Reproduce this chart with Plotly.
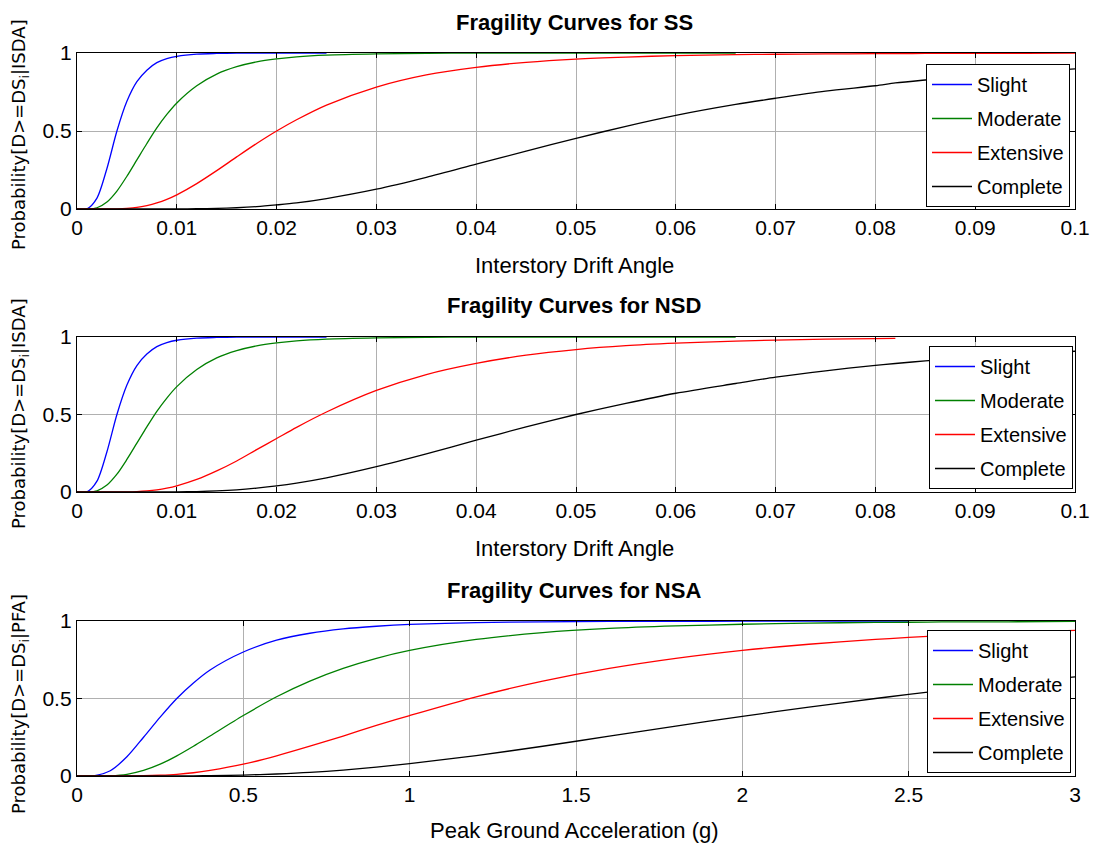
import plotly.graph_objects as go

# ---------------- data ----------------
DRIFT = [0, 0.001, 0.002, 0.003, 0.004, 0.005, 0.006, 0.007, 0.008, 0.009,
         0.010, 0.012, 0.014, 0.016, 0.018, 0.020, 0.022, 0.025, 0.030, 0.035,
         0.040, 0.045, 0.050, 0.055, 0.060, 0.066, 0.070, 0.075, 0.080, 0.082,
         0.085, 0.090, 0.095, 0.100]
PGA = [0, 0.05, 0.1, 0.15, 0.2, 0.25, 0.3, 0.35, 0.4, 0.5, 0.6, 0.7, 0.8, 0.9,
       1.0, 1.2, 1.4, 1.6, 1.8, 2.0, 2.2, 2.4, 2.5, 2.6, 2.8, 3.0]

SS_SLIGHT = [0, 0.001, 0.07, 0.26, 0.50, 0.69, 0.816, 0.89, 0.938, 0.964,
             0.979, 0.993, 0.997, 0.999, 1.0, 1.0, 1.0, 1.0]
SS_MODERATE = [0, 0.0002, 0.008, 0.045, 0.115, 0.21, 0.315, 0.42, 0.52, 0.606,
               0.68, 0.79, 0.865, 0.912, 0.943, 0.962, 0.975, 0.986, 0.994, 0.998,
               0.999, 1.0, 1.0, 1.0, 1.0, 1.0]
SS_EXTENSIVE = [0, 0, 0, 0, 0.001, 0.004, 0.010, 0.022, 0.039, 0.062,
                0.091, 0.163, 0.246, 0.334, 0.42, 0.5, 0.572, 0.666, 0.782, 0.86,
                0.908, 0.94, 0.961, 0.974, 0.983, 0.989, 0.992, 0.994, 0.996, 0.996,
                0.997, 0.998, 0.998, 0.999]
SS_COMPLETE = [0, 0, 0, 0, 0, 0, 0, 0, 0, 0.0002,
               0.0005, 0.0015, 0.004, 0.008, 0.015, 0.026, 0.039, 0.067, 0.127, 0.203,
               0.287, 0.371, 0.453, 0.53, 0.60, 0.67, 0.71, 0.756, 0.79, 0.808,
               0.827, 0.855, 0.878, 0.898]

NSD_SLIGHT = [0, 0.001, 0.07, 0.26, 0.50, 0.69, 0.816, 0.89, 0.938, 0.964,
              0.979, 0.993, 0.997, 0.999, 1.0, 1.0, 1.0, 1.0]
NSD_MODERATE = [0, 0.0002, 0.008, 0.045, 0.115, 0.21, 0.315, 0.42, 0.52, 0.606,
                0.68, 0.79, 0.865, 0.912, 0.943, 0.962, 0.975, 0.986, 0.994, 0.998,
                0.999, 1.0, 1.0, 1.0, 1.0, 1.0]
NSD_EXTENSIVE = [0, 0, 0, 0, 0.0002, 0.001, 0.003, 0.007, 0.014, 0.025,
                 0.040, 0.081, 0.136, 0.20, 0.273, 0.345, 0.417, 0.516, 0.655, 0.758,
                 0.83, 0.883, 0.919, 0.944, 0.96, 0.974, 0.98, 0.986, 0.99, 0.991]
NSD_COMPLETE = [0, 0, 0, 0, 0, 0, 0, 0, 0, 0.0005,
                0.001, 0.003, 0.007, 0.014, 0.025, 0.039, 0.057, 0.091, 0.163, 0.246,
                0.334, 0.42, 0.5, 0.572, 0.637, 0.70, 0.741, 0.782, 0.817, 0.829,
                0.846, 0.871, 0.891, 0.908]

NSA_SLIGHT = [0, 0.0014, 0.034, 0.124, 0.25, 0.38, 0.5, 0.60, 0.684, 0.80,
              0.876, 0.921, 0.949, 0.966, 0.978, 0.99, 0.995, 0.997, 0.998, 0.999,
              1.0, 1.0, 1.0]
NSA_MODERATE = [0, 0, 0.0015, 0.011, 0.036, 0.076, 0.13, 0.192, 0.258, 0.39,
                0.511, 0.612, 0.694, 0.759, 0.81, 0.881, 0.925, 0.952, 0.968, 0.979,
                0.986, 0.991, 0.992, 0.994, 0.995, 0.997]
NSA_EXTENSIVE = [0, 0, 0, 0, 0.0015, 0.005, 0.011, 0.021, 0.036, 0.076,
                 0.13, 0.192, 0.258, 0.326, 0.39, 0.511, 0.612, 0.694, 0.759, 0.81,
                 0.85, 0.881, 0.894, 0.906, 0.925, 0.94]
NSA_COMPLETE = [0, 0, 0, 0, 0, 0, 0.0003, 0.001, 0.002, 0.006,
                0.013, 0.023, 0.038, 0.057, 0.08, 0.132, 0.192, 0.257, 0.322, 0.385,
                0.444, 0.5, 0.526, 0.551, 0.598, 0.64]

STATES = ["Slight", "Moderate", "Extensive", "Complete"]
DRIFT_TICKS = [0, 0.01, 0.02, 0.03, 0.04, 0.05, 0.06, 0.07, 0.08, 0.09, 0.1]
DRIFT_TICKTEXT = ["0", "0.01", "0.02", "0.03", "0.04", "0.05", "0.06", "0.07", "0.08", "0.09", "0.1"]
PGA_TICKS = [0, 0.5, 1, 1.5, 2, 2.5, 3]
PGA_TICKTEXT = ["0", "0.5", "1", "1.5", "2", "2.5", "3"]
Y_TICKS = [0, 0.5, 1]
Y_TICKTEXT = ["0", "0.5", "1"]

TITLES = ["Fragility Curves for SS", "Fragility Curves for NSD", "Fragility Curves for NSA"]
XTITLES = ["Interstory Drift Angle", "Interstory Drift Angle", "Peak Ground Acceleration (g)"]
YTITLES = ["Probability[D>=DS<sub>i</sub>|ISDA]", "Probability[D>=DS<sub>i</sub>|ISDA]",
           "Probability[D>=DS<sub>i</sub>|PFA]"]

# ---------------- styling ----------------
COLORS = ["#0000ff", "#008000", "#ff0000", "#000000"]
FONT = "Liberation Sans, Arial, sans-serif"
W, H = 1093, 854
X0, X1 = 77, 1075
PANELS = [(53, 209), (337, 492), (621, 776)]  # top, bottom in px


def py(p):
    return 1 - p / H


fig = go.Figure()

panel_data = [
    (DRIFT, [SS_SLIGHT, SS_MODERATE, SS_EXTENSIVE, SS_COMPLETE]),
    (DRIFT, [NSD_SLIGHT, NSD_MODERATE, NSD_EXTENSIVE, NSD_COMPLETE]),
    (PGA, [NSA_SLIGHT, NSA_MODERATE, NSA_EXTENSIVE, NSA_COMPLETE]),
]
legend_names = ["legend", "legend2", "legend3"]

for i, (xs, series) in enumerate(panel_data):
    ax = "" if i == 0 else str(i + 1)
    for j, ys in enumerate(series):
        fig.add_trace(go.Scatter(
            x=xs[:len(ys)], y=ys, mode="lines", name=STATES[j],
            line=dict(color=COLORS[j], width=1.3, shape="spline", smoothing=0.8),
            xaxis="x" + ax, yaxis="y" + ax, legend=legend_names[i],
            legendgroup=f"g{i}{j}", showlegend=True,
        ))

axis_common = dict(
    showline=True, linecolor="black", linewidth=1.3, mirror="allticks",
    ticks="inside", ticklen=5, tickcolor="black", tickwidth=1,
    showgrid=True, gridcolor="#b0b0b0", gridwidth=0.8,
    zeroline=False, automargin=False,
    tickfont=dict(family=FONT, size=21, color="black"),
)

layout = dict(
    width=W, height=H, paper_bgcolor="white", plot_bgcolor="white",
    margin=dict(l=0, r=0, t=0, b=0), showlegend=True,
)

legend_pos = [(926, 64), (929, 346), (927, 630)]

for i, (top, bot) in enumerate(PANELS):
    ax = "" if i == 0 else str(i + 1)
    if i < 2:
        xt, xtt, xr = DRIFT_TICKS, DRIFT_TICKTEXT, [0, 0.1]
    else:
        xt, xtt, xr = PGA_TICKS, PGA_TICKTEXT, [0, 3]
    layout["xaxis" + ax] = dict(axis_common, domain=[X0 / W, X1 / W], range=xr,
                                tickvals=xt, ticktext=xtt, anchor="y" + ax)
    layout["yaxis" + ax] = dict(axis_common, domain=[py(bot), py(top)], range=[0, 1],
                                tickvals=Y_TICKS, ticktext=Y_TICKTEXT, anchor="x" + ax)
    lx, ly = legend_pos[i]
    layout[legend_names[i]] = dict(
        x=lx / W, y=py(ly), xanchor="left", yanchor="top", xref="paper", yref="paper",
        bgcolor="white", bordercolor="black", borderwidth=1,
        font=dict(family=FONT, size=20, color="black"),
        tracegroupgap=5, itemwidth=40,
    )

fig.update_layout(**layout)

title_y = [22, 306, 590]
xtitle_y = [265, 548, 830]
ytitle_y = [135, 414, 704]
for i in range(3):
    fig.add_annotation(text="<b>" + TITLES[i] + "</b>", x=574 / W, y=py(title_y[i]),
                       xref="paper", yref="paper", showarrow=False,
                       xanchor="center", yanchor="middle",
                       font=dict(family=FONT, size=22, color="black"))
    fig.add_annotation(text=XTITLES[i], x=574 / W, y=py(xtitle_y[i]),
                       xref="paper", yref="paper", showarrow=False,
                       xanchor="center", yanchor="middle",
                       font=dict(family=FONT, size=22, color="black"))
    fig.add_annotation(text=YTITLES[i], x=20 / W, y=py(ytitle_y[i]),
                       xref="paper", yref="paper", showarrow=False, textangle=-90,
                       xanchor="center", yanchor="middle",
                       font=dict(family="DejaVu Sans, Liberation Sans, sans-serif", size=18, color="black"))

fig.write_html("out.html")
